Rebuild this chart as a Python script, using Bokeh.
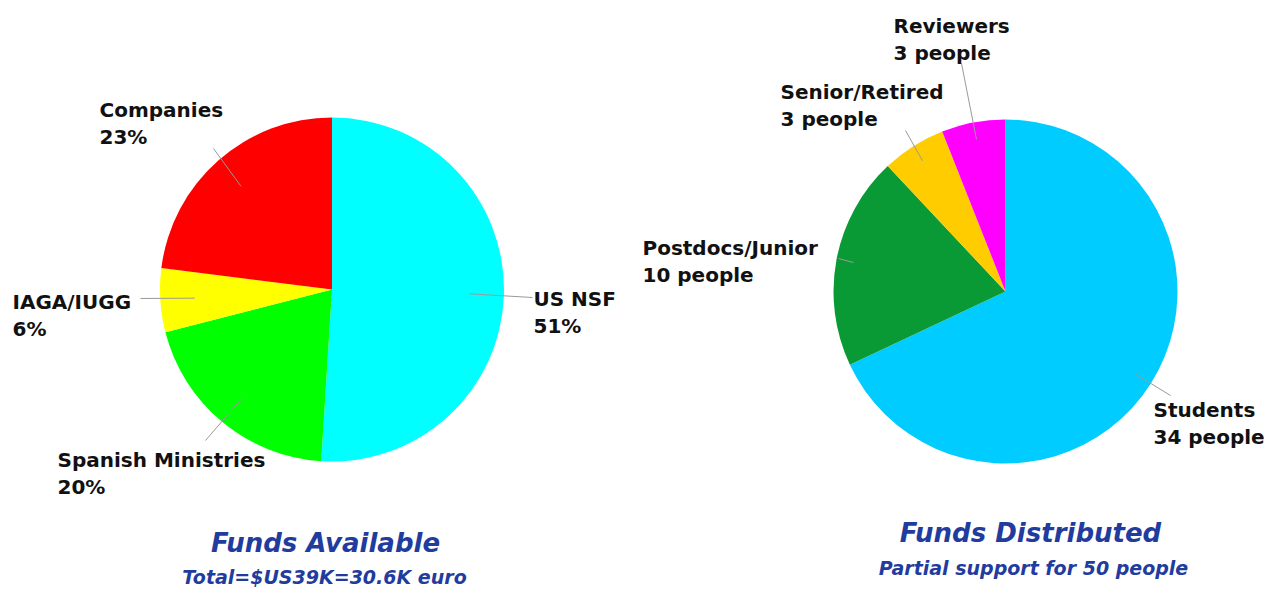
import math
from bokeh.plotting import figure
from bokeh.models import Range1d, ColumnDataSource
from bokeh.embed import file_html
from bokeh.resources import INLINE
from bokeh.core.properties import value

# ---- data ----
funds_labels = ["US NSF", "Spanish Ministries", "IAGA/IUGG", "Companies"]
funds_pct = [51, 20, 6, 23]
funds_colors = ["#00FFFF", "#00FF00", "#FFFF00", "#FF0000"]

people_labels = ["Students", "Postdocs/Junior", "Senior/Retired", "Reviewers"]
people_counts = [34, 10, 3, 3]
people_colors = ["#00CCFF", "#0A9A35", "#FFCC00", "#FF00FF"]

funds_title = "Funds Available"
funds_sub = "Total=$US39K=30.6K euro"
people_title = "Funds Distributed"
people_sub = "Partial support for 50 people"

# ---- layout (page pixel coordinates) ----
W, H = 1266, 592
TEXT_SHIFT = 8  # renderer places alphabetic baseline a little low


def py(y):
    return H - y


def ty_(y):
    return H - (y - TEXT_SHIFT)


p = figure(width=W, height=H, output_backend="svg", toolbar_location=None,
           x_range=Range1d(0, W), y_range=Range1d(0, H),
           min_border=0)
p.axis.visible = False
p.grid.visible = False
p.outline_line_color = None
p.background_fill_color = "white"
p.border_fill_color = "white"

FONT = value("DejaVu Sans")
LABEL_SIZE = "20px"
LINE_GAP = 27


def draw_pie(cx, cy, r, vals, colors, labels, second, anchors, inner_frac, outer_pts):
    total = float(sum(vals))
    starts, ends, mids = [], [], []
    cum = 0.0
    for v in vals:
        a0 = math.pi / 2 - 2 * math.pi * cum / total
        cum += v
        a1 = math.pi / 2 - 2 * math.pi * cum / total
        starts.append(a0)
        ends.append(a1)
        mids.append((a0 + a1) / 2)
    src = ColumnDataSource(dict(x=[cx] * len(vals), y=[py(cy)] * len(vals),
                                s=starts, e=ends, c=colors))
    p.wedge(x="x", y="y", radius=r, start_angle="s", end_angle="e",
            direction="clock", fill_color="c", line_color=None, source=src)
    # leader lines
    xs, ys = [], []
    for m, (ox, oy) in zip(mids, outer_pts):
        ix = cx + inner_frac * r * math.cos(m)
        iy = py(cy) + inner_frac * r * math.sin(m)
        xs.append([ix, ox])
        ys.append([iy, py(oy)])
    p.multi_line(xs=xs, ys=ys, line_color="#9a9a9a", line_width=1)
    # labels
    tx, tyy, tt = [], [], []
    for lab, sec, (ax, ay) in zip(labels, second, anchors):
        tx += [ax, ax]
        tyy += [ty_(ay), ty_(ay + LINE_GAP)]
        tt += [lab, sec]
    p.text(x=tx, y=tyy, text=tt, text_font=FONT, text_font_size=LABEL_SIZE,
           text_font_style="bold", text_align="left", text_baseline="alphabetic",
           text_color="#111111")


# left pie
draw_pie(331.5, 289, 172, funds_pct, funds_colors, funds_labels,
         ["%d%%" % v for v in funds_pct],
         anchors=[(533, 306), (57, 467), (12, 309), (99, 117)],
         inner_frac=0.8,
         outer_pts=[(532, 297), (205, 440), (140, 298), (213, 148)])

# right pie
draw_pie(1005, 291, 172, people_counts, people_colors, people_labels,
         ["%d people" % v for v in people_counts],
         anchors=[(1153, 417), (642, 255), (780, 99), (893, 33)],
         inner_frac=0.9,
         outer_pts=[(1170, 395), (838, 258), (905, 130), (961, 63)])

TITLE_COLOR = "#1f3c9e"
p.text(x=[325, 1030], y=[ty_(550), ty_(540)], text=[funds_title, people_title],
       text_font=FONT, text_font_size="26px", text_font_style="bold italic",
       text_align="center", text_baseline="alphabetic", text_color=TITLE_COLOR)
p.text(x=[324, 1033], y=[ty_(584), ty_(575)], text=[funds_sub, people_sub],
       text_font=FONT, text_font_size="19px", text_font_style="bold italic",
       text_align="center", text_baseline="alphabetic", text_color=TITLE_COLOR)

open("out.html", "w").write(file_html(p, INLINE))
